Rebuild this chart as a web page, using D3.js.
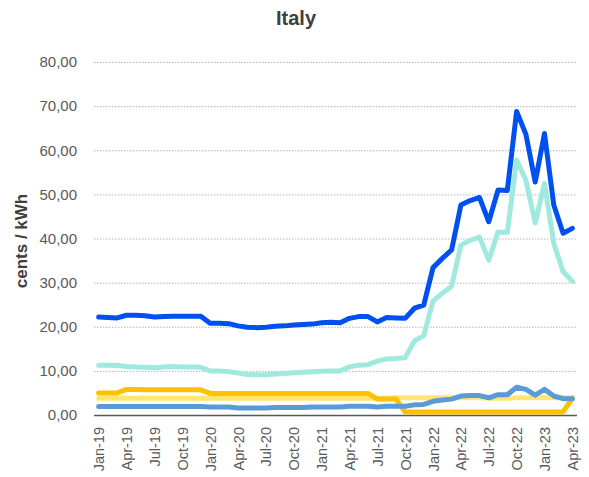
<!DOCTYPE html>
<html>
<head>
<meta charset="utf-8">
<script src="https://cdn.jsdelivr.net/npm/d3@7"></script>
<style>
  body { margin: 0; background: #fff; }
</style>
</head>
<body>
<div id="chart"></div>
<script>

//Months on the category axis
var months = [
  "Jan-19","Feb-19","Mar-19","Apr-19","May-19","Jun-19","Jul-19","Aug-19","Sep-19","Oct-19","Nov-19","Dec-19",
  "Jan-20","Feb-20","Mar-20","Apr-20","May-20","Jun-20","Jul-20","Aug-20","Sep-20","Oct-20","Nov-20","Dec-20",
  "Jan-21","Feb-21","Mar-21","Apr-21","May-21","Jun-21","Jul-21","Aug-21","Sep-21","Oct-21","Nov-21","Dec-21",
  "Jan-22","Feb-22","Mar-22","Apr-22","May-22","Jun-22","Jul-22","Aug-22","Sep-22","Oct-22","Nov-22","Dec-22",
  "Jan-23","Feb-23","Mar-23","Apr-23"
];

//Labels shown on the x axis
var tickLabels = ["Jan-19","Apr-19","Jul-19","Oct-19","Jan-20","Apr-20","Jul-20","Oct-20",
  "Jan-21","Apr-21","Jul-21","Oct-21","Jan-22","Apr-22","Jul-22","Oct-22","Jan-23","Apr-23"];

var yTicks = [0, 10, 20, 30, 40, 50, 60, 70, 80];

//Series (cents / kWh)
var totalPrice = [
  22.2, 22.1, 22.0, 22.6, 22.6, 22.5, 22.2, 22.3, 22.4, 22.4, 22.4, 22.4,
  20.8, 20.8, 20.7, 20.2, 19.9, 19.8, 19.9, 20.1, 20.2, 20.4, 20.5, 20.6,
  20.9, 21.0, 20.9, 21.9, 22.3, 22.3, 21.1, 22.1, 22.0, 21.9, 24.2, 24.9,
  33.4, 35.5, 37.4, 47.6, 48.6, 49.3, 43.8, 51.0, 50.9, 68.8, 63.6, 52.8,
  63.8, 47.6, 41.2, 42.3
];

var energy = [
  11.3, 11.3, 11.2, 11.0, 10.9, 10.8, 10.7, 10.9, 11.0, 10.9, 10.9, 10.8,
  10.0, 10.0, 9.8, 9.5, 9.2, 9.1, 9.1, 9.3, 9.4, 9.6, 9.7, 9.8,
  9.9, 10.0, 10.0, 10.9, 11.3, 11.4, 12.2, 12.7, 12.8, 13.0, 16.8, 18.0,
  25.8, 27.6, 29.2, 38.5, 39.6, 40.3, 35.1, 41.5, 41.4, 57.8, 53.2, 43.5,
  52.5, 38.9, 32.5, 30.3
];

var charges = [
  5.0, 5.0, 5.0, 5.8, 5.8, 5.7, 5.7, 5.7, 5.7, 5.7, 5.7, 5.7,
  4.9, 4.9, 4.9, 4.9, 4.9, 4.9, 4.9, 4.9, 4.9, 4.9, 4.9, 4.9,
  4.9, 4.9, 4.9, 4.9, 4.9, 4.9, 3.6, 3.6, 3.6, 0.7, 0.7, 0.7,
  0.7, 0.7, 0.7, 0.7, 0.7, 0.7, 0.7, 0.7, 0.7, 0.7, 0.7, 0.7,
  0.7, 0.7, 0.7, 3.8
];

var network = [
  3.8, 3.8, 3.8, 3.8, 3.8, 3.8, 3.8, 3.8, 3.8, 3.8, 3.8, 3.8,
  3.8, 3.8, 3.8, 3.8, 3.8, 3.8, 3.8, 3.8, 3.8, 3.8, 3.8, 3.8,
  3.8, 3.8, 3.8, 3.8, 3.8, 3.8, 3.8, 3.8, 3.9, 3.9, 3.9, 3.9,
  3.9, 3.9, 3.9, 3.9, 3.9, 3.9, 3.8, 3.8, 3.8, 3.9, 3.9, 3.9,
  3.9, 3.9, 3.9, 3.9
];

var taxes = [
  1.9, 1.9, 1.9, 1.9, 1.9, 1.9, 1.9, 1.9, 1.9, 1.9, 1.9, 1.9,
  1.8, 1.8, 1.8, 1.6, 1.6, 1.6, 1.6, 1.7, 1.7, 1.7, 1.7, 1.8,
  1.8, 1.8, 1.8, 2.0, 2.0, 2.0, 1.8, 2.0, 2.0, 2.0, 2.3, 2.4,
  3.1, 3.4, 3.6, 4.3, 4.4, 4.4, 3.9, 4.6, 4.6, 6.3, 5.8, 4.5,
  5.8, 4.3, 3.7, 3.7
];

//Drawing order: back to front
var series = [
  {name: "network", values: network, color: "#ffe673"},
  {name: "charges", values: charges, color: "#ffc000"},
  {name: "taxes", values: taxes, color: "#5b9bd5"},
  {name: "energy", values: energy, color: "#a0e9df"},
  {name: "total", values: totalPrice, color: "#0050ef"}
];

var width = 589, height = 477;
var font = "'Liberation Sans', Arial, Helvetica, sans-serif";

var svg = d3.select("#chart")
  .append("svg")
  .attr("width", width)
  .attr("height", height)
  .style("font-family", font);

//Plot area
var plot = {left: 94, right: 577, top: 62, bottom: 415};

var xScale = d3.scalePoint()
  .domain(months)
  .range([plot.left, plot.right])
  .padding(0.5);

var yScale = d3.scaleLinear()
  .domain([0, 80])
  .range([plot.bottom, plot.top]);

var commaFormat = d3.formatLocale({decimal: ",", thousands: ".", grouping: [3], currency: ["", ""]})
  .format(".2f");

//Gridlines
svg.append("g")
  .selectAll("line")
  .data(yTicks.filter(d => d > 0))
  .enter()
  .append("line")
  .attr("x1", plot.left)
  .attr("x2", plot.right)
  .attr("y1", d => yScale(d) + 0.5)
  .attr("y2", d => yScale(d) + 0.5)
  .style("stroke", "#b4b4b4")
  .style("stroke-width", 1)
  .style("stroke-dasharray", "1.5,1.5");

//Y axis labels
var yAxis = svg.append("g")
  .attr("transform", "translate(" + plot.left + ",0)")
  .call(d3.axisLeft(yScale).tickValues(yTicks).tickFormat(commaFormat).tickSize(0).tickPadding(17));
yAxis.select(".domain").remove();
yAxis.selectAll("text")
  .style("font-family", font)
  .style("font-size", "15px")
  .style("fill", "#595959");

//X axis
var xAxis = svg.append("g")
  .attr("transform", "translate(0," + plot.bottom + ")")
  .call(d3.axisBottom(xScale).tickValues(tickLabels).tickSize(0).tickPadding(0));
xAxis.select(".domain")
  .attr("d", "M" + plot.left + ",0.5H" + plot.right)
  .style("stroke", "#595959")
  .style("stroke-width", 1.5);
xAxis.selectAll("text")
  .style("font-family", font)
  .style("font-size", "14.5px")
  .style("fill", "#595959")
  .style("text-anchor", "end")
  .attr("transform", "rotate(-90)")
  .attr("x", -12)
  .attr("y", 0)
  .attr("dy", "0.35em");

//Lines
var line = d3.line()
  .x((d, i) => xScale(months[i]))
  .y(d => yScale(d));

svg.append("g")
  .selectAll("path")
  .data(series)
  .enter()
  .append("path")
  .attr("d", d => line(d.values))
  .style("fill", "none")
  .style("stroke", d => d.color)
  .style("stroke-width", 5)
  .style("stroke-linejoin", "round")
  .style("stroke-linecap", "round");

//Title
svg.append("text")
  .attr("x", 296)
  .attr("y", 25)
  .style("text-anchor", "middle")
  .style("font-size", "20px")
  .style("font-weight", "bold")
  .style("fill", "#404040")
  .text("Italy");

//Y axis title
svg.append("text")
  .attr("transform", "translate(27,241) rotate(-90)")
  .style("text-anchor", "middle")
  .style("font-size", "17px")
  .style("font-weight", "bold")
  .style("fill", "#404040")
  .text("cents / kWh");

</script>
</body>
</html>
